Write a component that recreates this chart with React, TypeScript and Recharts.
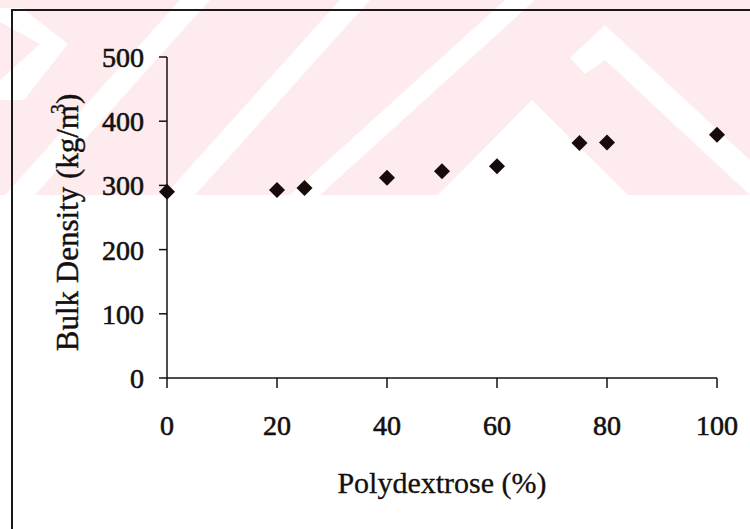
import { ScatterChart, Scatter, XAxis, YAxis, Label } from "recharts";

// bulk density vs polydextrose content
const polydextrose = [0, 20, 25, 40, 50, 60, 75, 80, 100];
const bulkDensity = [290, 293, 296, 312, 322, 330, 366, 367, 379];
const xTicks = [0, 20, 40, 60, 80, 100];
const yTicks = [0, 100, 200, 300, 400, 500];

const data = polydextrose.map((x, i) => ({ x, y: bulkDensity[i] }));

const FONT = "'Liberation Serif', 'Times New Roman', serif";
const INK = "#141010";

function Diamond(props: any) {
  const { cx, cy } = props;
  const r = 8;
  return <path d={`M${cx},${cy - r}L${cx + r},${cy}L${cx},${cy + r}L${cx - r},${cy}Z`} fill="#160a0a" />;
}

function YTitle(props: any) {
  const vb = props.viewBox;
  const x = vb.x - 29;
  const y = vb.y + vb.height / 2 + 5;
  return (
    <text x={x} y={y} transform={`rotate(-90, ${x}, ${y})`} textAnchor="middle" fontFamily={FONT} fontSize={31} fill={INK} stroke={INK} strokeWidth={0.4}>
      Bulk Density (kg/m
      <tspan dx={-9} dy={-13} fontSize={20}>3</tspan>
      <tspan dy={13}>)</tspan>
    </text>
  );
}

function XTitle(props: any) {
  const vb = props.viewBox;
  return (
    <text x={vb.x + vb.width / 2} y={vb.y + vb.height + 55} textAnchor="middle" fontFamily={FONT} fontSize={30} fill={INK} stroke={INK} strokeWidth={0.3}>
      Polydextrose (%)
    </text>
  );
}

// faint scan watermark behind the plot
function Watermark() {
  const pink = "#fdebee";
  return (
    <svg width={750} height={529} style={{ position: "absolute", left: 0, top: 0 }}>
      <rect x={0} y={0} width={750} height={195} fill={pink} />
      <polygon points="0,8 22,8 68,44 24,100 0,100 0,80 40,44 0,22" fill="#fff" />
      <polygon points="5,195 35,195 210,0 180,0" fill="#fff" />
      <polygon points="165,195 195,195 370,0 340,0" fill="#fff" />
      <polygon points="290,195 320,195 535,0 505,0" fill="#fff" />
      <polygon points="438,195 532,100 628,195" fill="#fff" />
      <polygon points="570,58 605,25 750,160 750,195 605,60 585,74" fill="#fff" />
    </svg>
  );
}

const tickStyle = { fill: INK, stroke: INK, strokeWidth: 0.6, fontSize: 28, fontFamily: FONT };

export default function App() {
  return (
    <div style={{ position: "absolute", left: 0, top: 0, width: 750, height: 529, background: "#fff", overflow: "hidden" }}>
      <Watermark />
      <div style={{ position: "absolute", left: 11, top: 9, right: 0, bottom: -5, borderTop: "2px solid #1a1a1a", borderLeft: "2px solid #1a1a1a" }} />
      <div style={{ position: "absolute", left: 0, top: 0 }}>
        <ScatterChart width={750} height={529} margin={{ top: 57, right: 33, bottom: 91, left: 107 }}>
          <XAxis
            type="number"
            dataKey="x"
            domain={[0, 100]}
            ticks={xTicks}
            height={60}
            tickSize={10}
            tickMargin={27}
            axisLine={{ stroke: INK, strokeWidth: 1.5 }}
            tickLine={{ stroke: INK, strokeWidth: 1.5 }}
            tick={tickStyle}
          >
            <Label content={<XTitle />} />
          </XAxis>
          <YAxis
            type="number"
            dataKey="y"
            domain={[0, 500]}
            ticks={yTicks}
            width={60}
            tickSize={8}
            tickMargin={15}
            axisLine={{ stroke: INK, strokeWidth: 1.5 }}
            tickLine={{ stroke: INK, strokeWidth: 1.5 }}
            tick={tickStyle}
          >
            <Label content={<YTitle />} />
          </YAxis>
          <Scatter data={data} shape={<Diamond />} isAnimationActive={false} />
        </ScatterChart>
      </div>
    </div>
  );
}
